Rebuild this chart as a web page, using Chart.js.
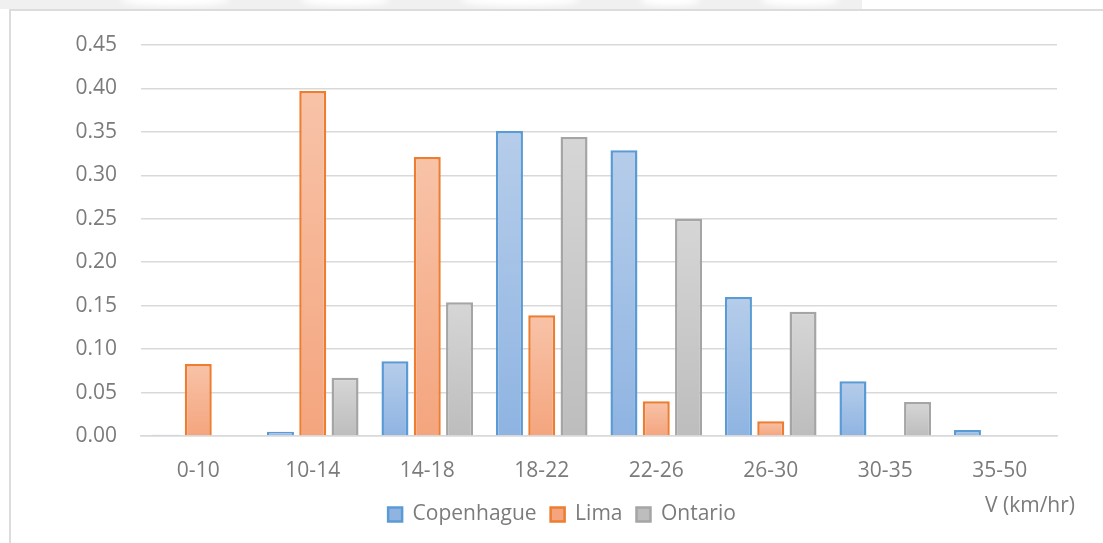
<!DOCTYPE html>
<html>
<head>
<meta charset="utf-8">
<script src="https://cdn.jsdelivr.net/npm/chart.js@4.4.1/dist/chart.umd.min.js"></script>
<style>
  html, body { margin: 0; padding: 0; background: #fff; }
  .page { position: relative; width: 1103px; height: 543px; overflow: hidden; }
  .band { position: absolute; left: 0; top: 0; width: 862px; height: 9px; background: #f0f0f0; }
  .band span { position: absolute; top: -6px; height: 12px; background: #fff; border-radius: 50%; filter: blur(3px); }
  .frame { position: absolute; left: 9px; top: 9px; right: -2px; bottom: -2px; border-left: 2px solid #dcdcdc; border-top: 2px solid #dcdcdc; }
  canvas { position: absolute; left: 0; top: 0; }
</style>
</head>
<body>
<div class="page">
  <div class="band">
    <span style="left:120px;width:110px"></span>
    <span style="left:300px;width:90px"></span>
    <span style="left:460px;width:120px"></span>
    <span style="left:640px;width:60px"></span>
    <span style="left:760px;width:80px"></span>
  </div>
  <div class="frame"></div>
  <canvas id="speedChart" width="1103" height="543"></canvas>
</div>
<script>
const categories = ['0-10', '10-14', '14-18', '18-22', '22-26', '26-30', '30-35', '35-50'];
const copenhague = [0.0015, 0.005, 0.086, 0.351, 0.329, 0.160, 0.063, 0.007];
const lima = [0.083, 0.397, 0.321, 0.139, 0.040, 0.017, 0, 0];
const ontario = [0, 0.067, 0.154, 0.344, 0.250, 0.143, 0.039, 0];
const yMax = 0.45;
const yStep = 0.05;
const xTitle = 'V (km/hr)';

const textColor = '#7b7b7b';
const gridColor = '#d9d9d9';
const fontFamily = '"Open Sans", "DejaVu Sans", sans-serif';

// each bar gets its own light-to-dark vertical gradient
function barFill(top, bottom, mid) {
  return (ctx) => {
    const chart = ctx.chart;
    const y = chart.scales && chart.scales.y;
    if (ctx.type !== 'data' || !chart.chartArea || !y) return mid;
    const y0 = y.getPixelForValue(0);
    const y1 = y.getPixelForValue(ctx.raw);
    if (!isFinite(y1) || Math.abs(y0 - y1) < 1) return bottom;
    const g = chart.ctx.createLinearGradient(0, y1, 0, y0);
    g.addColorStop(0, top);
    g.addColorStop(1, bottom);
    return g;
  };
}

const axisTitle = {
  id: 'axisTitle',
  afterDraw(chart) {
    const { ctx, chartArea } = chart;
    ctx.save();
    ctx.font = '21px ' + fontFamily;
    ctx.fillStyle = textColor;
    ctx.textAlign = 'right';
    ctx.textBaseline = 'middle';
    ctx.fillText(xTitle, chartArea.right + 18, chartArea.bottom + 70);
    ctx.restore();
  }
};

new Chart(document.getElementById('speedChart'), {
  type: 'bar',
  data: {
    labels: categories,
    datasets: [
      { label: 'Copenhague', data: copenhague, borderColor: '#5b9bd5',
        backgroundColor: barFill('#b6cdea', '#8fb4e2', '#a3c0e6') },
      { label: 'Lima', data: lima, borderColor: '#ed7d31',
        backgroundColor: barFill('#f8c3a8', '#f4a57e', '#f6b493') },
      { label: 'Ontario', data: ontario, borderColor: '#a5a5a5',
        backgroundColor: barFill('#d6d6d6', '#bdbdbd', '#c9c9c9') }
    ]
  },
  options: {
    responsive: false,
    animation: false,
    devicePixelRatio: 1,
    layout: { padding: { left: 67, right: 46, top: 45, bottom: 8 } },
    datasets: {
      bar: { borderWidth: 2.5, categoryPercentage: 0.846, barPercentage: 0.836 }
    },
    scales: {
      x: {
        grid: { display: false, drawTicks: false },
        border: { color: gridColor, width: 1.5 },
        ticks: { color: textColor, font: { family: fontFamily, size: 21 }, padding: 22, maxRotation: 0 },
        afterFit(axis) { axis.height = 54; }
      },
      y: {
        min: 0,
        max: yMax,
        grid: { color: gridColor, lineWidth: 1.5, drawTicks: false },
        border: { display: false },
        ticks: {
          stepSize: yStep,
          color: textColor,
          font: { family: fontFamily, size: 21 },
          padding: 24,
          callback: (v) => v.toFixed(2)
        },
        afterFit(axis) { axis.width = 74; }
      }
    },
    plugins: {
      legend: {
        position: 'bottom',
        labels: {
          color: textColor,
          font: { family: fontFamily, size: 21 },
          boxWidth: 14,
          boxHeight: 14,
          padding: 14
        }
      },
      tooltip: { enabled: false }
    }
  },
  plugins: [axisTitle]
});
</script>
</body>
</html>
